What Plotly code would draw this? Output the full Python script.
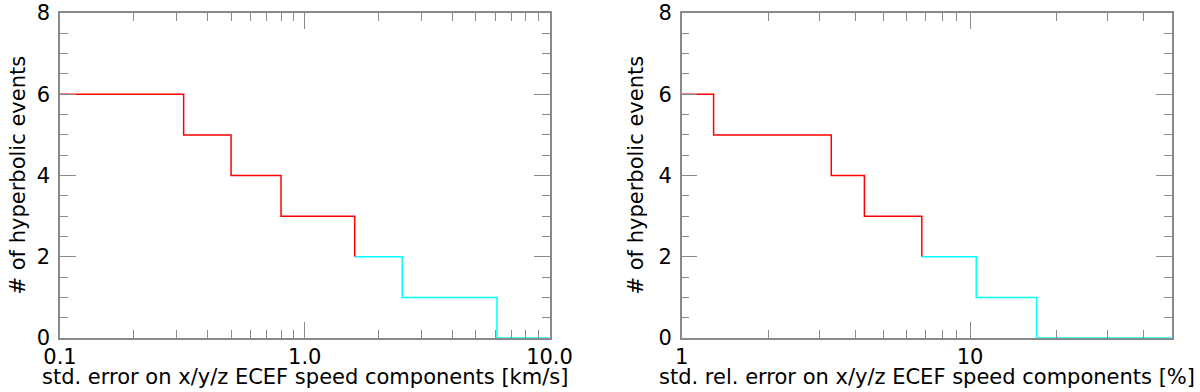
import math
import plotly.graph_objects as go

# error value at which each hyperbolic event drops out (sorted)
abs_err_kms = [0.32, 0.50, 0.80, 1.6, 2.5, 6.1]
rel_err_pct = [1.29, 3.3, 4.3, 6.8, 10.5, 17.0]
n_events = 6
split_level = 2  # counts <= this drawn in cyan

left_range = [0.1, 10.0]
right_range = [1.0, 50.0]

left_ticks = [0.1, 1.0, 10.0]
left_ticktext = ["0.1", "1.0", "10.0"]
left_minor = [0.2, 0.3, 0.4, 0.5, 0.6, 0.7, 0.8, 0.9, 2, 3, 4, 5, 6, 7, 8, 9]
right_ticks = [1, 10]
right_ticktext = ["1", "10"]
right_minor = [2, 3, 4, 5, 6, 7, 8, 9, 20, 30, 40]

y_ticks = [0, 2, 4, 6, 8]

x_titles = ["std. error on x/y/z ECEF speed components [km/s]",
            "std. rel. error on x/y/z ECEF speed components [%]"]
y_title = "# of hyperbolic events"

FONT = "DejaVu Sans"
AX = "#8a8a8a"


def curve(errs, xr):
    counts = [n_events - i for i in range(len(errs) + 1)]
    k = n_events - split_level  # index of the step that lands on split_level
    red_x = [xr[0]] + errs[:k]
    red_y = counts[:k + 1]
    cy_x = errs[k - 1:] + [xr[1]]
    cy_y = counts[k:] + [0]
    return (red_x, red_y), (cy_x, cy_y)


fig = go.Figure()
panels = [(abs_err_kms, left_range, "x", "y"), (rel_err_pct, right_range, "x2", "y2")]
for errs, xr, xa, ya in panels:
    (rx, ry), (cx, cy) = curve(errs, xr)
    fig.add_trace(go.Scatter(x=rx, y=ry, mode="lines", line=dict(color="#ff0000", width=1.5, shape="hv"),
                             xaxis=xa, yaxis=ya, showlegend=False))
    fig.add_trace(go.Scatter(x=cx, y=cy, mode="lines", line=dict(color="#00ffff", width=1.5, shape="hv"),
                             xaxis=xa, yaxis=ya, showlegend=False))

W, H = 1200, 392


def px(sx):
    return sx / W


def py(sy):
    return (H - sy) / H


dom_y = [py(338), py(13)]
dom_l = [px(60), px(549.5)]
dom_r = [px(681.7), px(1171.7)]

common_x = dict(type="log", showline=True, linecolor=AX, linewidth=1.5, mirror="allticks",
                ticks="inside", ticklen=16, tickwidth=1.2, tickcolor=AX, showgrid=False, zeroline=False,
                automargin=False, ticklabelstandoff=-1, ticklabeloverflow="allow",
                tickfont=dict(family=FONT, size=21, color="black"))
common_y = dict(range=[0, 8], tickvals=y_ticks, showline=True, linecolor=AX, linewidth=1.5,
                mirror="allticks", ticks="inside", ticklen=16, tickwidth=1.2, tickcolor=AX,
                showgrid=False, zeroline=False, automargin=False, ticklabelstandoff=4,
                ticklabeloverflow="allow",
                tickfont=dict(family=FONT, size=21, color="black"),
                minor=dict(dtick=0.5, ticks="inside", ticklen=8, tickcolor=AX, tickwidth=1.2))

fig.update_layout(
    width=W, height=H, margin=dict(l=0, r=0, t=0, b=0),
    paper_bgcolor="white", plot_bgcolor="white",
    xaxis=dict(common_x, domain=dom_l, anchor="y", range=[math.log10(v) for v in left_range],
               tickvals=left_ticks, ticktext=left_ticktext,
               minor=dict(tickmode="array", tickvals=left_minor, ticks="inside", ticklen=8,
                          tickcolor=AX, tickwidth=1.2)),
    xaxis2=dict(common_x, domain=dom_r, anchor="y2", range=[math.log10(v) for v in right_range],
                tickvals=right_ticks, ticktext=right_ticktext,
                minor=dict(tickmode="array", tickvals=right_minor, ticks="inside", ticklen=8,
                           tickcolor=AX, tickwidth=1.2)),
    yaxis=dict(common_y, domain=dom_y, anchor="x"),
    yaxis2=dict(common_y, domain=dom_y, anchor="x2"),
)

tf = dict(family=FONT, size=21, color="black")
for i, dom in enumerate([dom_l, dom_r]):
    fig.add_annotation(text=x_titles[i], xref="paper", yref="paper", x=(dom[0] + dom[1]) / 2,
                       y=py(377), showarrow=False, font=tf, xanchor="center", yanchor="middle")
for sx in (17, 635):
    fig.add_annotation(text=y_title, xref="paper", yref="paper", x=px(sx), y=(dom_y[0] + dom_y[1]) / 2,
                       textangle=-90, showarrow=False, font=tf, xanchor="center", yanchor="middle")

# drop the default 8px body margin so the figure sits at the window corner
fig.write_html("out.html", config={"displayModeBar": False},
               post_script="document.body.style.margin='0';")
